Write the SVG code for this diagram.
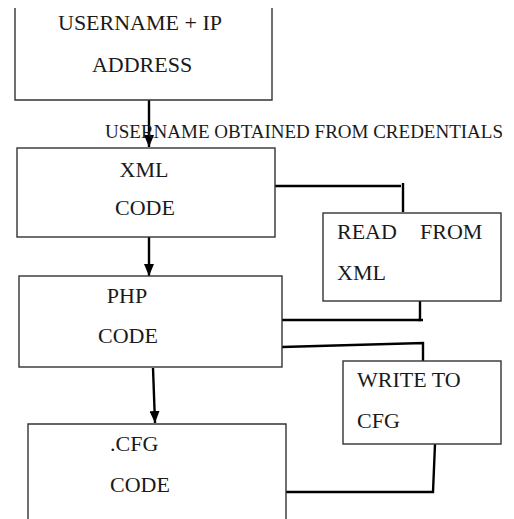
<svg xmlns="http://www.w3.org/2000/svg" width="514" height="519" viewBox="0 0 514 519">
<style>
.box{fill:#fff;stroke:#333;stroke-width:1.4}
text{font-family:'Liberation Serif','DejaVu Serif',serif;fill:#1a1a1a}
.t{font-size:22px}
.c{text-anchor:middle}
.lbl{font-size:19px}
.ln{fill:none;stroke:#000;stroke-width:2.4}
</style>
<defs>
<marker id="arr" markerWidth="12" markerHeight="10" refX="12" refY="5" orient="auto" markerUnits="userSpaceOnUse" viewBox="0 0 12 10">
<path d="M0,0 L12,5 L0,10 Z" fill="#000"/>
</marker>
</defs>
<rect width="514" height="519" fill="#fff"/>
<g id="connectors">
<line class="ln" x1="149" y1="100" x2="149" y2="147" marker-end="url(#arr)"/>
<line class="ln" x1="149" y1="237" x2="149" y2="276" marker-end="url(#arr)"/>
<line class="ln" x1="153" y1="368" x2="155" y2="423" marker-end="url(#arr)"/>
<polyline class="ln" points="275,186 401,186"/>
<line class="ln" x1="403" y1="183" x2="403" y2="212"/>
<polyline class="ln" points="420,301 420,320 282,320"/>
<line class="ln" x1="418" y1="320" x2="423" y2="320"/>
<polyline class="ln" points="282,347 423,343 423,361"/>
<polyline class="ln" points="435,444 433,492 286,492"/>
<text class="lbl" x="105" y="138" font-family="Liberation Serif, DejaVu Serif, serif">USERNAME OBTAINED FROM CREDENTIALS</text>
</g>
<g id="node-username">
<path class="box" d="M15,8 V100 H272 V8"/>
<text class="t c" x="140" y="30" font-family="Liberation Serif, DejaVu Serif, serif">USERNAME + IP</text>
<text class="t c" x="142" y="72" font-family="Liberation Serif, DejaVu Serif, serif">ADDRESS</text>
</g>
<g id="node-xml">
<rect class="box" x="17" y="148" width="258" height="89"/>
<text class="t c" x="144" y="177" font-family="Liberation Serif, DejaVu Serif, serif">XML</text>
<text class="t c" x="145" y="215" font-family="Liberation Serif, DejaVu Serif, serif">CODE</text>
</g>
<g id="node-read">
<rect class="box" x="323" y="213" width="178" height="88"/>
<text class="t" x="337" y="239" font-family="Liberation Serif, DejaVu Serif, serif">READ</text>
<text class="t" x="420" y="239" font-family="Liberation Serif, DejaVu Serif, serif">FROM</text>
<text class="t" x="337" y="280" font-family="Liberation Serif, DejaVu Serif, serif">XML</text>
</g>
<g id="node-php">
<rect class="box" x="19" y="276" width="263" height="91"/>
<text class="t c" x="127" y="303" font-family="Liberation Serif, DejaVu Serif, serif">PHP</text>
<text class="t c" x="128" y="343" font-family="Liberation Serif, DejaVu Serif, serif">CODE</text>
</g>
<g id="node-write">
<rect class="box" x="343" y="361" width="158" height="83"/>
<text class="t" x="357" y="387" font-family="Liberation Serif, DejaVu Serif, serif">WRITE TO</text>
<text class="t" x="357" y="428" font-family="Liberation Serif, DejaVu Serif, serif">CFG</text>
</g>
<g id="node-cfg">
<path class="box" d="M28,530 V424 H286 V530"/>
<text class="t" x="110" y="451" font-family="Liberation Serif, DejaVu Serif, serif">.CFG</text>
<text class="t" x="110" y="492" font-family="Liberation Serif, DejaVu Serif, serif">CODE</text>
</g>
</svg>
